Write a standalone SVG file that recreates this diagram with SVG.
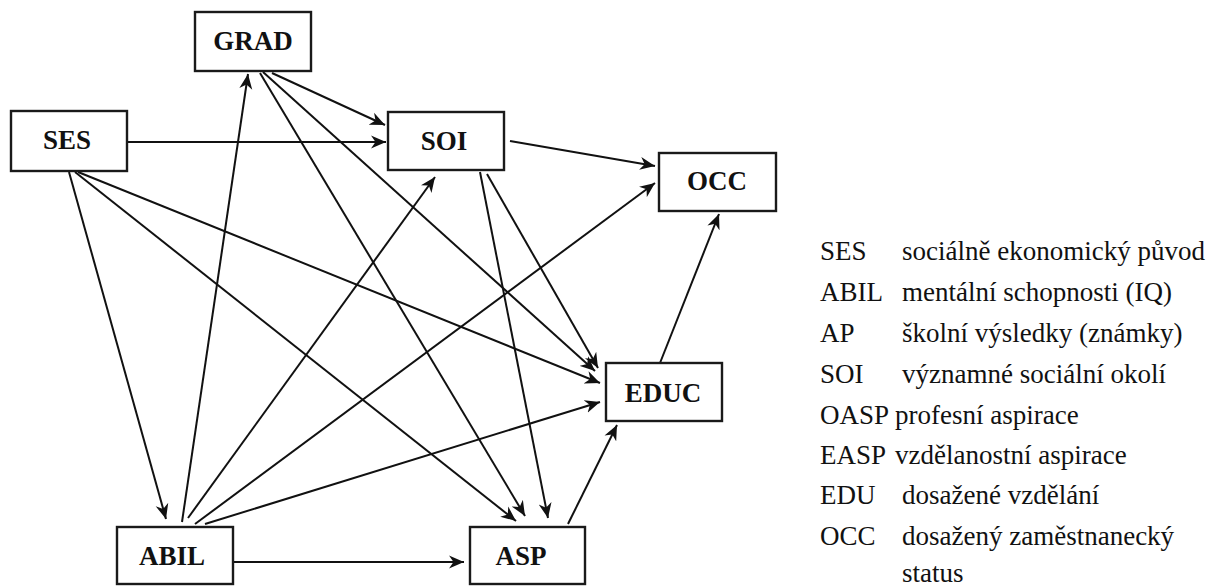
<svg xmlns="http://www.w3.org/2000/svg" width="1222" height="587" viewBox="0 0 1222 587">
<style>
.box{fill:#fff;stroke:#1a1a1a;stroke-width:2.4}
.lbl{font-family:"Liberation Serif",serif;font-weight:bold;font-size:27px;fill:#111;text-anchor:middle}
.edge{stroke:#111;stroke-width:2;fill:none;marker-end:url(#ah)}
.leg{font-family:"Liberation Serif",serif;font-size:27px;fill:#111}
</style>
<defs>
<marker id="ah" markerUnits="userSpaceOnUse" markerWidth="18" markerHeight="14" refX="15" refY="7" orient="auto">
<path d="M0,0.5 L15,7 L0,13.5 L4.5,7 Z" fill="#111"/>
</marker>
</defs>
<rect width="1222" height="587" fill="#fff"/>
<g id="connectors">
<line class="edge" x1="128" y1="142" x2="386" y2="142"/>
<line class="edge" x1="69" y1="172" x2="166" y2="519"/>
<line class="edge" x1="75" y1="172" x2="516" y2="521"/>
<line class="edge" x1="78" y1="172" x2="600" y2="383"/>
<line class="edge" x1="272" y1="73" x2="385" y2="125"/>
<line class="edge" x1="260" y1="73" x2="525" y2="516"/>
<line class="edge" x1="263" y1="72" x2="595" y2="371"/>
<line class="edge" x1="182" y1="522" x2="248" y2="74"/>
<line class="edge" x1="188" y1="518" x2="435" y2="177"/>
<line class="edge" x1="195" y1="524" x2="655" y2="183"/>
<line class="edge" x1="205" y1="524" x2="600" y2="402"/>
<line class="edge" x1="234" y1="562" x2="464" y2="562"/>
<line class="edge" x1="510" y1="141" x2="655" y2="166"/>
<line class="edge" x1="480" y1="172" x2="548" y2="518"/>
<line class="edge" x1="487" y1="174" x2="598" y2="368"/>
<line class="edge" x1="568" y1="524" x2="617" y2="425"/>
<line class="edge" x1="660" y1="363" x2="719" y2="214"/>
</g>
<g id="GRAD"><rect class="box" x="195" y="12" width="116" height="59"/><text class="lbl" x="253" y="50">GRAD</text></g>
<g id="SES"><rect class="box" x="11" y="111" width="116" height="60"/><text class="lbl" x="67" y="149">SES</text></g>
<g id="SOI"><rect class="box" x="388" y="112" width="116" height="58"/><text class="lbl" x="444" y="150">SOI</text></g>
<g id="OCC"><rect class="box" x="659" y="153" width="117" height="58"/><text class="lbl" x="717" y="190">OCC</text></g>
<g id="EDUC"><rect class="box" x="606" y="363" width="116" height="58"/><text class="lbl" x="663" y="402">EDUC</text></g>
<g id="ABIL"><rect class="box" x="117" y="527" width="116" height="57"/><text class="lbl" x="172" y="565">ABIL</text></g>
<g id="ASP"><rect class="box" x="470" y="527" width="115" height="57"/><text class="lbl" x="521" y="565">ASP</text></g>
<g id="legend" class="leg">
<text x="820" y="260">SES</text><text x="902" y="260">sociálně ekonomický původ</text>
<text x="820" y="301">ABIL</text><text x="902" y="301">mentální schopnosti (IQ)</text>
<text x="820" y="342">AP</text><text x="902" y="342">školní výsledky (známky)</text>
<text x="820" y="383">SOI</text><text x="902" y="383">významné sociální okolí</text>
<text x="820" y="424">OASP</text><text x="895" y="424">profesní aspirace</text>
<text x="820" y="464">EASP</text><text x="895" y="464">vzdělanostní aspirace</text>
<text x="820" y="504">EDU</text><text x="902" y="504">dosažené vzdělání</text>
<text x="820" y="545">OCC</text><text x="902" y="545">dosažený zaměstnanecký</text>
<text x="902" y="582">status</text>
</g>
</svg>
